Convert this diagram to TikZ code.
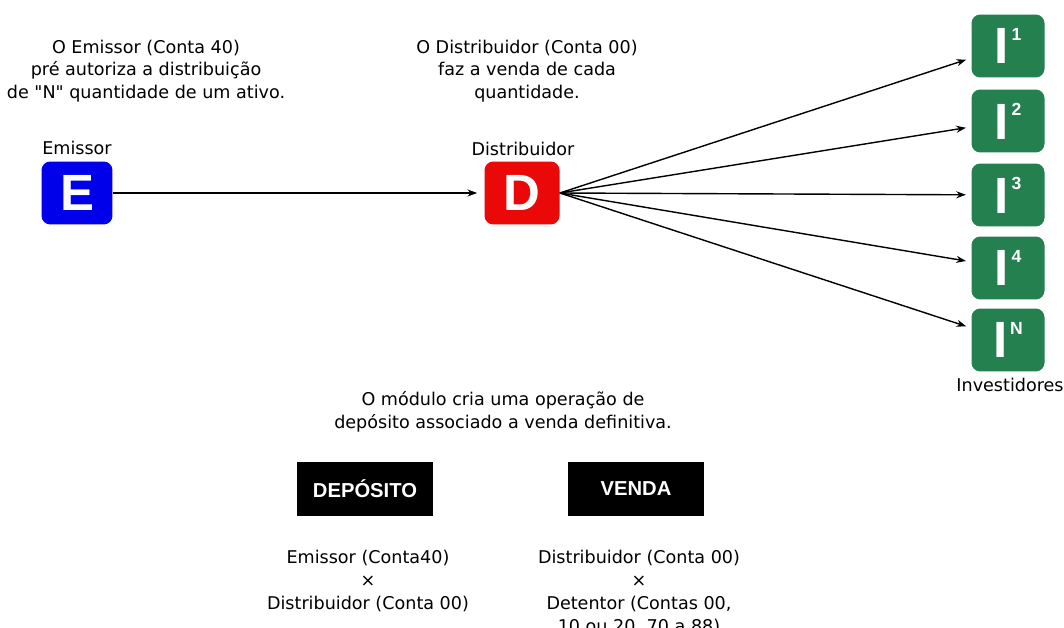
\documentclass[tikz,border=0pt]{standalone}
\usepackage{fontspec}
\usetikzlibrary{arrows.meta}
\setmainfont{DejaVu Sans}
\newfontfamily\heavyfont{Liberation Sans}
\definecolor{emblue}{RGB}{0,0,235}
\definecolor{dsred}{RGB}{235,8,8}
\definecolor{invgreen}{RGB}{36,128,78}
\newcommand{\inv}[1]{I\hspace{1.5pt}\raisebox{13.6pt}{\fontsize{10}{10}\selectfont #1}}

\begin{document}
\begin{tikzpicture}[x=0.02cm, y=-0.02cm,
    lbl/.style={font=\fontsize{10}{13}\selectfont, align=center, inner sep=0pt},
    tile/.style={rounded corners=5pt, text=white, inner sep=0pt,
        font=\heavyfont\bfseries\fontsize{29}{29}\selectfont,
        minimum width=1.46cm, minimum height=1.26cm},
    opbox/.style={fill=black, text=white, inner sep=0pt,
        font=\heavyfont\bfseries\fontsize{11.5}{14}\selectfont,
        minimum width=2.72cm, minimum height=1.1cm},
    flow/.style={draw, thick, -{Stealth[length=5.5pt,width=4pt]}, shorten >=3pt}]
    \useasboundingbox (0,0) rectangle (1064,628);
    % top notes
    \node[lbl] (noteE) at (146,71) {O Emissor (Conta 40)\\pré autoriza a distribuição\\de \textquotedbl N\textquotedbl{} quantidade de um ativo.};
    \node[lbl] (noteD) at (527,71) {O Distribuidor (Conta 00)\\faz a venda de cada\\quantidade.};
    % participants
    \node[tile, fill=emblue, minimum width=1.42cm] (E) at (77,193) {E};
    \node[tile, fill=dsred, minimum width=1.5cm] (D) at (522,193) {D};
    \node[lbl] (Elbl) at (77,148) {Emissor};
    \node[lbl] (Dlbl) at (523,149) {Distribuidor};
    \node[tile, fill=invgreen] (I1) at (1008,46) {\inv{1}};
    \node[tile, fill=invgreen] (I2) at (1008,121) {\inv{2}};
    \node[tile, fill=invgreen] (I3) at (1008,195) {\inv{3}};
    \node[tile, fill=invgreen] (I4) at (1008,268) {\inv{4}};
    \node[tile, fill=invgreen] (IN) at (1008,340) {\inv{N}};
    \node[lbl] (Ilbl) at (1010,385) {Investidores};
    \path (E) edge[flow, shorten >=4pt] (D);
    \path (D.east) edge[flow] (I1) edge[flow] (I2) edge[flow] (I3) edge[flow] (I4) edge[flow] (IN);
    % operations
    \node[lbl] (mod) at (503,412) {O módulo cria uma operação de\\depósito associado a venda definitiva.};
    \node[opbox] (dep) at (365,489) {DEPÓSITO};
    \node[opbox] (ven) at (636,489) {VENDA};
    \node[lbl, anchor=north] (depx) at (368,550) {Emissor (Conta40)\\×\\Distribuidor (Conta 00)};
    \node[lbl, anchor=north] (venx) at (639,550) {Distribuidor (Conta 00)\\×\\Detentor (Contas 00,\\10 ou 20, 70 a 88)};
\end{tikzpicture}
\end{document}
